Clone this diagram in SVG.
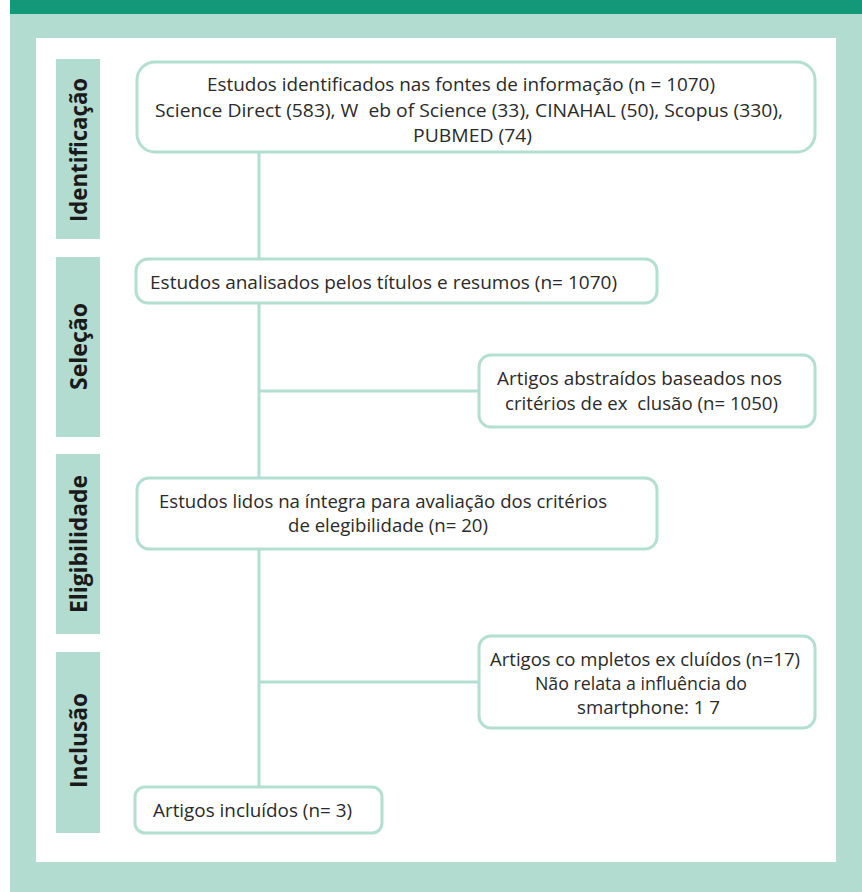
<svg xmlns="http://www.w3.org/2000/svg" width="862" height="892" viewBox="0 0 862 892">
<style>
.box{fill:#ffffff;stroke:#b2dfd1;stroke-width:3}
.lbl{fill:#b2dccf}
.conn{stroke:#b2dfd1;stroke-width:3;fill:none}
.t{font-family:"Open Sans","Liberation Sans",sans-serif;font-size:19px;fill:#2a2a2a}
.ts{font-family:"Open Sans","Liberation Sans",sans-serif;font-size:17.5px;fill:#2a2a2a}
.lt{font-family:"Open Sans","Liberation Sans",sans-serif;font-size:24px;font-weight:bold;fill:#1a1a1a}
</style>
<rect x="0" y="0" width="862" height="892" fill="#ffffff"/>
<rect x="10" y="0" width="852" height="892" fill="#b2dccf"/>
<rect x="10" y="0" width="852" height="14" fill="#13997a"/>
<rect x="36" y="38" width="800" height="824" fill="#ffffff"/>

<g id="stage-labels">
  <g id="lbl-identificacao"><rect class="lbl" x="56" y="59" width="44" height="180"/><text class="lt" x="87" y="150" text-anchor="middle" textLength="144" lengthAdjust="spacingAndGlyphs" transform="rotate(-90 87 150)">Identificação</text></g>
  <g id="lbl-selecao"><rect class="lbl" x="56" y="257" width="44" height="180"/><text class="lt" x="87" y="346.5" text-anchor="middle" textLength="87" lengthAdjust="spacingAndGlyphs" transform="rotate(-90 87 346.5)">Seleção</text></g>
  <g id="lbl-elegibilidade"><rect class="lbl" x="56" y="454" width="44" height="180"/><text class="lt" x="87" y="544" text-anchor="middle" textLength="138" lengthAdjust="spacingAndGlyphs" transform="rotate(-90 87 544)">Eligibilidade</text></g>
  <g id="lbl-inclusao"><rect class="lbl" x="56" y="652" width="44" height="181"/><text class="lt" x="87" y="740.5" text-anchor="middle" textLength="95" lengthAdjust="spacingAndGlyphs" transform="rotate(-90 87 740.5)">Inclusão</text></g>
</g>

<g id="connectors">
  <line class="conn" x1="259" y1="152" x2="259" y2="787"/>
  <line class="conn" x1="259" y1="391" x2="480" y2="391"/>
  <line class="conn" x1="259" y1="682" x2="480" y2="682"/>
</g>

<g id="n-identificados">
  <rect class="box" x="137" y="62" width="678" height="90" rx="18"/>
  <text class="t" x="207" y="91" textLength="508" lengthAdjust="spacingAndGlyphs">Estudos identificados nas fontes de informação (n = 1070)</text>
  <text class="t" x="155" y="117" textLength="628" lengthAdjust="spacingAndGlyphs" xml:space="preserve">Science Direct (583), W  eb of Science (33), CINAHAL (50), Scopus (330),</text>
  <text class="t" x="413" y="142" textLength="119" lengthAdjust="spacingAndGlyphs">PUBMED (74)</text>
</g>

<g id="n-analisados">
  <rect class="box" x="136" y="259" width="521" height="44" rx="12"/>
  <text class="t" x="150" y="289" textLength="467" lengthAdjust="spacingAndGlyphs">Estudos analisados pelos títulos e resumos (n= 1070)</text>
</g>

<g id="n-excluidos1">
  <rect class="box" x="479" y="355" width="336" height="72" rx="12"/>
  <text class="t" x="497" y="385" textLength="285" lengthAdjust="spacingAndGlyphs">Artigos abstraídos baseados nos</text>
  <text class="t" x="505" y="410" textLength="273" lengthAdjust="spacingAndGlyphs" xml:space="preserve">critérios de ex  clusão (n= 1050)</text>
</g>

<g id="n-lidos">
  <rect class="box" x="137" y="478" width="520" height="71" rx="12"/>
  <text class="t" x="159" y="508" textLength="448" lengthAdjust="spacingAndGlyphs">Estudos lidos na íntegra para avaliação dos critérios</text>
  <text class="t" x="288" y="532" textLength="200" lengthAdjust="spacingAndGlyphs">de elegibilidade (n= 20)</text>
</g>

<g id="n-excluidos2">
  <rect class="box" x="479" y="636" width="336" height="92" rx="12"/>
  <text class="ts" x="490" y="666" textLength="310" lengthAdjust="spacingAndGlyphs">Artigos co mpletos ex cluídos (n=17)</text>
  <text class="ts" x="535" y="690" textLength="212" lengthAdjust="spacingAndGlyphs">Não relata a influência do</text>
  <text class="ts" x="577" y="714" textLength="143" lengthAdjust="spacingAndGlyphs">smartphone: 1 7</text>
</g>

<g id="n-incluidos">
  <rect class="box" x="135" y="787" width="247" height="46" rx="10"/>
  <text class="t" x="153" y="817" textLength="199" lengthAdjust="spacingAndGlyphs">Artigos incluídos (n= 3)</text>
</g>
</svg>
